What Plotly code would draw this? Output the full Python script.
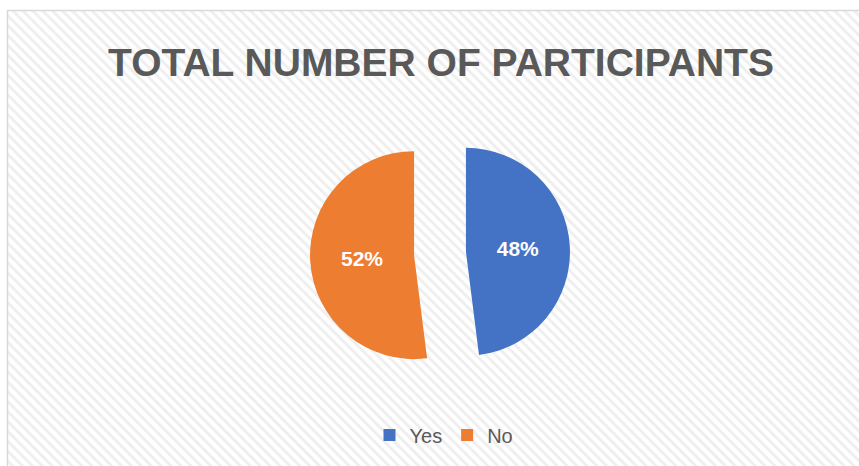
import base64
import plotly.graph_objects as go

labels = ["Yes", "No"]
values = [48, 52]
colors = ["#4472C4", "#ED7D31"]
title_text = "TOTAL NUMBER OF PARTICIPANTS"

W, H = 859, 466

svg = f'''<svg xmlns="http://www.w3.org/2000/svg" width="{W}" height="{H}">
<defs><pattern id="p" width="7" height="7" patternUnits="userSpaceOnUse" patternTransform="rotate(-45)">
<rect width="7" height="7" fill="#ffffff"/><rect width="3" height="7" fill="#efefef"/></pattern></defs>
<rect x="0" y="0" width="{W}" height="{H}" fill="#ffffff"/>
<rect x="7.5" y="10.5" width="{W+20}" height="{H+20}" fill="url(#p)" stroke="#d9d9d9" stroke-width="1.5"/>
</svg>'''
src = "data:image/svg+xml;base64," + base64.b64encode(svg.encode()).decode()

cx, cy, box = 440, 253.5, 260

fig = go.Figure(go.Pie(
    labels=labels, values=values, sort=False, direction="clockwise", rotation=0,
    pull=[0.25, 0.25],
    marker=dict(colors=colors, line=dict(width=0)),
    textinfo="percent", textposition="inside", insidetextorientation="horizontal",
    textfont=dict(family="Liberation Sans", size=21, color="white", weight="bold"),
    domain=dict(x=[(cx - box / 2) / W, (cx + box / 2) / W],
                y=[(H - cy - box / 2) / H, (H - cy + box / 2) / H]),
    hoverinfo="skip",
))

fig.update_layout(
    width=W, height=H,
    margin=dict(l=0, r=0, t=0, b=0),
    paper_bgcolor="white",
    images=[dict(source=src, xref="paper", yref="paper", x=0, y=1, sizex=1, sizey=1,
                 sizing="stretch", layer="below", xanchor="left", yanchor="top")],
    title=dict(text=title_text, x=441 / W, xanchor="center", y=1 - 62 / H, yanchor="middle",
               font=dict(family="Liberation Sans", size=39, color="#595959", weight="bold")),
    legend=dict(orientation="h", x=444 / W, xanchor="center", y=1 - 435 / H, yanchor="middle",
                font=dict(family="Liberation Sans", size=20, color="#595959"),
                bgcolor="rgba(0,0,0,0)", itemwidth=30),
)

fig.write_html("out.html")
